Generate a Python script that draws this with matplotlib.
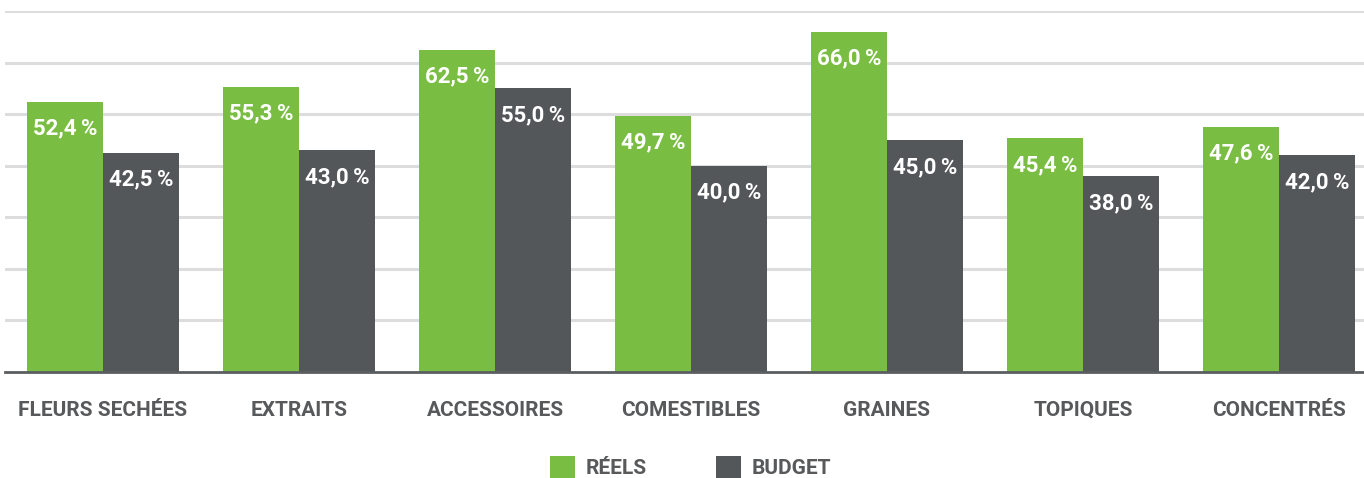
import matplotlib
matplotlib.use("Agg")
import matplotlib.pyplot as plt
from matplotlib.patches import Rectangle
import numpy as np

categories = ["FLEURS SECHÉES", "EXTRAITS", "ACCESSOIRES", "COMESTIBLES", "GRAINES", "TOPIQUES", "CONCENTRÉS"]
series_names = ["RÉELS", "BUDGET"]
reels = [52.4, 55.3, 62.5, 49.7, 66.0, 45.4, 47.6]
budget = [42.5, 43.0, 55.0, 40.0, 45.0, 38.0, 42.0]
colors = ["#7ABD43", "#54575A"]

plt.rcParams['font.family'] = ['Roboto', 'DejaVu Sans']

W, H = 1364, 478
fig = plt.figure(figsize=(W / 100, H / 100), dpi=100)
ax = fig.add_axes([5 / W, (H - 372) / H, (W - 5) / W, (372 - 11) / H])

x = np.arange(len(categories))
bw = 0.388
for i, (vals, col) in enumerate(zip([reels, budget], colors)):
    pos = x + (i - 0.5) * bw
    ax.bar(pos, vals, width=bw, color=col, zorder=3, linewidth=0)
    for p, v in zip(pos, vals):
        txt = f"{v:.1f}".replace(".", ",") + "\u2009%"
        ax.annotate(txt, (p, v), xytext=(0, -27 * 72 / 100), textcoords="offset points",
                    ha="center", va="center", color="white", fontsize=16,
                    fontweight="bold", zorder=4)

ax.set_xlim(-0.5, (W - 103) / 196)
ax.set_ylim(0, 70)
ax.set_yticks(np.arange(10, 71, 10))
ax.yaxis.grid(True, color="#DDDDDD", linewidth=2.2, zorder=0)
ax.tick_params(axis="y", left=False, labelleft=False)
ax.tick_params(axis="x", bottom=False, length=0, pad=44 * 0.72)
ax.set_xticks(x)
ax.set_xticklabels(categories, fontsize=15, fontweight="bold", color="#58595B")
for lbl in ax.get_xticklabels():
    lbl.set_va("baseline")
for s in ["top", "right", "left"]:
    ax.spines[s].set_visible(False)
ax.spines["bottom"].set_color("#5B5E61")
ax.spines["bottom"].set_linewidth(2.0)
ax.spines["bottom"].set_zorder(5)

# legend
leg_x = [550, 716]
for name, col, lx in zip(series_names, colors, leg_x):
    fig.add_artist(Rectangle((lx / W, (H - 479) / H), 25 / W, 23 / H,
                             transform=fig.transFigure, color=col, linewidth=0))
    fig.text((lx + 36) / W, (H - 469) / H, name, ha="left", va="center",
             fontsize=15, fontweight="bold", color="#58595B")

fig.savefig("out.png", dpi=100)
